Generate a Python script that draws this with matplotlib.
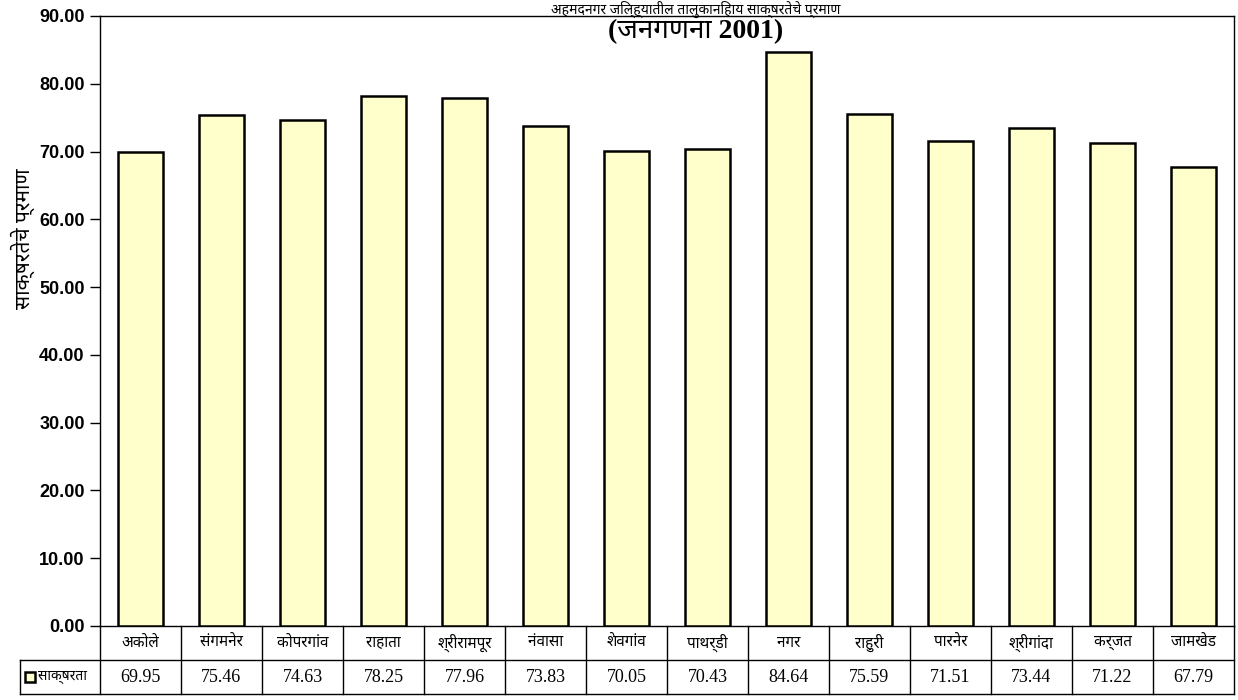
import numpy as np
import matplotlib.pyplot as plt
from matplotlib.transforms import blended_transform_factory

plt.rcParams['font.family'] = ['Noto Sans', 'DejaVu Sans']

talukas = ['अकोले', 'संगमनेर', 'कोपरगांव', 'राहाता', 'श्रीरामपूर', 'नंवासा', 'शेवगांव',
           'पाथर्डी', 'नगर', 'राहुरी', 'पारनेर', 'श्रीगांदा', 'कर्जत', 'जामखेड']
saksharta = [69.95, 75.46, 74.63, 78.25, 77.96, 73.83, 70.05,
             70.43, 84.64, 75.59, 71.51, 73.44, 71.22, 67.79]
yticks = np.arange(0, 91, 10)
series_name = 'साक्षरता'
title1 = 'अहमदनगर जिल्ह्यातील तालुकानिहाय साक्षरतेचे प्रमाण'
title2 = '(जनगणना 2001)'
ylab = 'साक्षरतेचे प्रमाण'

fig = plt.figure(figsize=(12.38, 7), dpi=100)
ax = fig.add_axes([100/1238, 74/700, 1134/1238, 610/700])

x = np.arange(len(talukas))
ax.bar(x, saksharta, width=0.56, color='#FFFFCC', edgecolor='black', linewidth=1.8, zorder=3)

ax.set_xlim(-0.5, len(talukas) - 0.5)
ax.set_ylim(0, 90)
ax.set_yticks(yticks)
ax.set_yticklabels(['%.2f' % v for v in yticks], fontsize=13, fontweight='bold',
                   family=['Liberation Sans', 'DejaVu Sans'])
ax.tick_params(axis='y', direction='out', length=7, width=1, pad=4)
ax.set_xticks([])
for s in ax.spines.values():
    s.set_linewidth(1)
ax.set_ylabel(ylab, fontsize=15, fontweight='bold')
ax.yaxis.set_label_coords(-0.057, 0.635)

# data table under the plot
tr = blended_transform_factory(ax.transData, ax.transAxes)
rh = 34 / 610
for i, name in enumerate(talukas):
    ax.text(i, -rh / 2, name, transform=tr, ha='center', va='center', fontsize=11)
    ax.text(i, -rh * 1.5, '%.2f' % saksharta[i], transform=tr, ha='center', va='center',
            fontsize=13, family=['Liberation Serif', 'DejaVu Serif'])
for b in np.arange(-0.5, len(talukas), 1.0):
    ax.plot([b, b], [0, -2 * rh], transform=tr, color='black', lw=1, clip_on=False)
lx = -80 / 1134
ax.plot([lx, 1], [-rh, -rh], transform=ax.transAxes, color='black', lw=1, clip_on=False)
ax.plot([lx, 1], [-2 * rh, -2 * rh], transform=ax.transAxes, color='black', lw=1, clip_on=False)
ax.plot([lx, lx], [-rh, -2 * rh], transform=ax.transAxes, color='black', lw=1, clip_on=False)
ax.add_patch(plt.Rectangle((lx + 0.004, -rh * 1.5 - 0.009), 0.009, 0.018, transform=ax.transAxes,
                           facecolor='#FFFFCC', edgecolor='black', lw=1.8, clip_on=False))
ax.text(lx + 0.016, -rh * 1.5, series_name, transform=ax.transAxes, ha='left', va='center', fontsize=10)

fig.text(0.562, 0.999, title1, ha='center', va='top', fontsize=10, fontweight='bold')
fig.text(0.562, 0.955, title2, ha='center', va='center', fontsize=20, fontweight='bold',
         family=['Liberation Serif', 'Noto Sans', 'DejaVu Serif'])

fig.savefig('out.png', dpi=100)
